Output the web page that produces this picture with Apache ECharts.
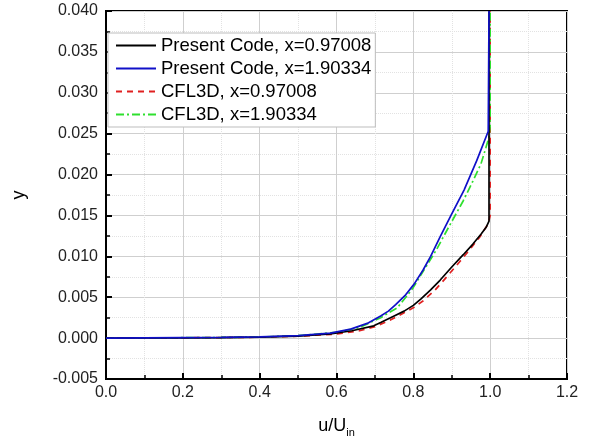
<!DOCTYPE html>
<html>
<head>
<meta charset="utf-8">
<script src="https://cdn.jsdelivr.net/npm/echarts@6/dist/echarts.min.js"></script>
<style>html,body{margin:0;padding:0;background:#fff}#c{width:594px;height:443px}</style>
</head>
<body>
<div id="c"></div>
<script>
const seriesNames = ['Present Code, x=0.97008', 'Present Code, x=1.90334', 'CFL3D, x=0.97008', 'CFL3D, x=1.90334'];
const xTicks = [0, 0.2, 0.4, 0.6, 0.8, 1.0, 1.2];
const yTicks = [-0.005, 0, 0.005, 0.01, 0.015, 0.02, 0.025, 0.03, 0.035, 0.04];

const presentX097 = [[0,0],[0.1,0.00002],[0.2,0.00004],[0.3,0.00007],[0.4,0.00012],[0.5,0.00025],[0.584,0.0005],[0.64,0.0009],[0.697,0.0015],[0.715,0.0019],[0.75,0.0027],[0.776,0.0033],[0.8,0.0040],[0.82,0.0048],[0.845,0.0059],[0.87,0.0071],[0.9,0.0087],[0.93,0.0102],[0.955,0.0115],[0.976,0.0127],[0.99,0.0136],[0.997,0.0143],[0.997,0.025],[0.997,0.04]];
const presentX190 = [[0,0],[0.1,0.00002],[0.2,0.00005],[0.3,0.00008],[0.4,0.00014],[0.5,0.0003],[0.584,0.0006],[0.637,0.0011],[0.68,0.0018],[0.715,0.0027],[0.735,0.0033],[0.754,0.0041],[0.78,0.0053],[0.802,0.0066],[0.825,0.0083],[0.845,0.0100],[0.87,0.0124],[0.898,0.0150],[0.932,0.0181],[0.965,0.0217],[0.995,0.0253],[0.997,0.04]];
const cfl3dX097 = [[0,0],[0.1,0.00002],[0.2,0.00004],[0.3,0.00007],[0.4,0.00011],[0.5,0.00023],[0.6,0.0005],[0.66,0.0009],[0.7,0.0014],[0.74,0.0022],[0.776,0.0031],[0.8,0.0037],[0.824,0.0045],[0.855,0.0058],[0.889,0.0076],[0.92,0.0093],[0.95,0.0110],[0.975,0.0125],[0.995,0.0140],[1.0,0.0150],[1.0,0.04]];
const cfl3dX190 = [[0,0],[0.1,0.00002],[0.2,0.00005],[0.3,0.00008],[0.4,0.00014],[0.5,0.0003],[0.6,0.0007],[0.66,0.0013],[0.715,0.0025],[0.758,0.0037],[0.784,0.0052],[0.8,0.0062],[0.83,0.0085],[0.86,0.0108],[0.89,0.0134],[0.93,0.0168],[0.955,0.0192],[0.976,0.0213],[0.989,0.0233],[0.997,0.0246],[1.0,0.026],[1.0,0.04]];

const font = 'Liberation Sans, Arial, sans-serif';
const chart = echarts.init(document.getElementById('c'), null, {renderer: 'canvas'});

function mk(name, data, color, type, width) {
  return {
    name, type: 'line', data, showSymbol: false, symbol: 'none',
    lineStyle: {color, type, width}, itemStyle: {color},
    animation: false, z: 5
  };
}

chart.setOption({
  animation: false,
  backgroundColor: '#fff',
  grid: {left: 106, right: 27, top: 11, bottom: 57, show: true, borderColor: '#000', borderWidth: 2, backgroundColor: 'transparent'},
  legend: {
    orient: 'vertical', left: 108, top: 33,
    itemWidth: 40, itemHeight: 16, itemGap: 4,
    padding: [3, 4, 3, 7],
    backgroundColor: '#fff',
    borderColor: '#bdbdbd', borderWidth: 1,
    itemStyle: {opacity: 0},
    textStyle: {fontFamily: font, fontSize: 18.5, color: '#000'},
    data: seriesNames
  },
  xAxis: {
    type: 'value', min: 0, max: 1.2, interval: 0.2,
    name: '{a|u/U}{b|in}', nameLocation: 'middle', nameGap: 36,
    nameTextStyle: {rich: {a: {fontFamily: font, fontSize: 18, color: '#000'}, b: {fontFamily: font, fontSize: 11, color: '#000', padding: [12, 0, 0, 0]}}},
    axisLine: {onZero: false, lineStyle: {color: '#000', width: 2}},
    axisTick: {inside: true, length: 6, lineStyle: {color: '#000', width: 2}},
    minorTick: {show: true, splitNumber: 2, length: 4, lineStyle: {color: '#000', width: 1.5}},
    splitLine: {show: true, lineStyle: {color: '#cfcfcf', width: 1}},
    minorSplitLine: {show: true, lineStyle: {color: '#e2e2e2', width: 1, type: 'dotted'}},
    axisLabel: {fontFamily: font, fontSize: 16, color: '#222', margin: 6, formatter: v => v.toFixed(1)}
  },
  yAxis: {
    type: 'value', min: -0.005, max: 0.04, interval: 0.005,
    name: 'y', nameLocation: 'middle', nameGap: 78, nameRotate: 90,
    nameTextStyle: {fontFamily: font, fontSize: 18, color: '#000'},
    axisLine: {onZero: false, lineStyle: {color: '#000', width: 2}},
    axisTick: {inside: true, length: 6, lineStyle: {color: '#000', width: 2}},
    minorTick: {show: true, splitNumber: 2, length: 4, lineStyle: {color: '#000', width: 1.5}},
    splitLine: {show: true, lineStyle: {color: '#cfcfcf', width: 1}},
    minorSplitLine: {show: true, lineStyle: {color: '#e2e2e2', width: 1, type: 'dotted'}},
    axisLabel: {fontFamily: font, fontSize: 16, color: '#222', margin: 8, formatter: v => (Math.abs(v) < 1e-9 ? 0 : v).toFixed(3)}
  },
  series: [
    mk(seriesNames[2], cfl3dX097, '#e02020', [6, 5], 1.7),
    mk(seriesNames[3], cfl3dX190, '#2ee02e', [8, 3, 2, 3], 1.7),
    mk(seriesNames[0], presentX097, '#000000', 'solid', 1.7),
    mk(seriesNames[1], presentX190, '#1010c8', 'solid', 1.7)
  ]
});
</script>
</body>
</html>
